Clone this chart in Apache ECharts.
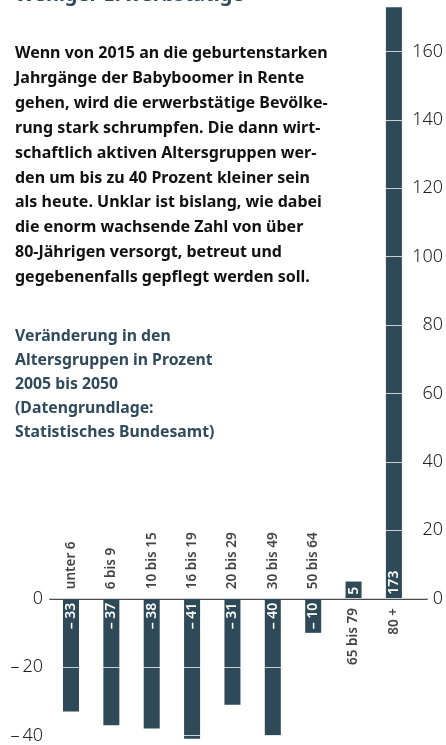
<!DOCTYPE html>
<html><head><meta charset="utf-8">
<script src="https://cdn.jsdelivr.net/npm/echarts@6/dist/echarts.min.js"></script>
<style>html,body{margin:0;padding:0;background:#fff}#c{width:446px;height:745px}</style>
</head><body><div id="c"></div>
<script>
const titleText = 'Weniger Erwerbstätige';
const introLines = [
  'Wenn von 2015 an die geburtenstarken',
  'Jahrgänge der Babyboomer in Rente',
  'gehen, wird die erwerbstätige Bevölke-',
  'rung stark schrumpfen. Die dann wirt-',
  'schaftlich aktiven Altersgruppen wer-',
  'den um bis zu 40 Prozent kleiner sein',
  'als heute. Unklar ist bislang, wie dabei',
  'die enorm wachsende Zahl von über',
  '80-Jährigen versorgt, betreut und',
  'gegebenenfalls gepflegt werden soll.'
];
const sourceLines = [
  'Veränderung in den',
  'Altersgruppen in Prozent',
  '2005 bis 2050',
  '(Datengrundlage:',
  'Statistisches Bundesamt)'
];
const categories = ['unter 6','6 bis 9','10 bis 15','16 bis 19','20 bis 29','30 bis 49','50 bis 64','65 bis 79','80 +'];
const values = [-33,-37,-38,-41,-31,-40,-10,5,173];
const valueLabels = ['– 33','– 37','– 38','– 41','– 31','– 40','– 10','5','173'];
const leftTickValues = [0,-20,-40];
const rightTickValues = [0,20,40,60,80,100,120,140,160];

const FONT = 'Noto Sans';
const BAR = '#2e4957';
const chart = echarts.init(document.getElementById('c'), null, {renderer:'canvas'});

const barData = values.map((v,i)=>({
  value:[i,v],
  label: v < 0
    ? {position:'insideTop', distance:4, align:'right'}
    : {position:'insideBottom', distance:4, align:'left'}
}));
const nameData = categories.map((c,i)=>({
  value:[i,0],
  label: values[i] < 0
    ? {position:'top', distance:9, align:'left'}
    : {position:'bottom', distance:9, align:'right'}
}));

chart.setOption({
  animation:false,
  textStyle:{fontFamily:FONT},
  title:[
    {text:titleText, left:10, top:-20, textStyle:{fontFamily:FONT, fontSize:20, fontWeight:'bold', color:'#2e4a5c', lineHeight:20}},
    {text:introLines.join('\n'), left:10, top:36, textStyle:{fontFamily:FONT, fontSize:16, fontWeight:'bold', color:'#111', lineHeight:24.9}},
    {text:sourceLines.join('\n'), left:10, top:319, textStyle:{fontFamily:FONT, fontSize:15.8, fontWeight:'bold', color:'#2e4a5c', lineHeight:24.2}}
  ],
  grid:{left:50, right:18, top:0.3, bottom:9.6, containLabel:false},
  xAxis:{type:'value', min:-0.52, max:8.82, axisLine:{onZero:true, lineStyle:{color:'#111', width:1.5}}, axisTick:{show:false}, axisLabel:{show:false}, splitLine:{show:false}},
  yAxis:[
    {type:'value', position:'left', min:-40, max:175, interval:20, z:5,
     axisLine:{show:false}, axisTick:{show:false},
     splitLine:{show:true, lineStyle:{color:'rgba(255,255,255,0.75)', width:1}},
     axisLabel:{margin:7, fontSize:18, fontWeight:300, color:'#222', fontFamily:FONT, showMaxLabel:false,
       formatter:v=> leftTickValues.indexOf(v) < 0 ? '' : (v < 0 ? '–\u2009' + Math.abs(v) : String(v))}},
    {type:'value', position:'right', min:-40, max:175, interval:20, z:5,
     axisLine:{show:false}, axisTick:{show:false}, splitLine:{show:false},
     axisLabel:{margin:16, align:'right', fontSize:18, fontWeight:300, color:'#222', fontFamily:FONT, showMaxLabel:false,
       formatter:v=> rightTickValues.indexOf(v) < 0 ? '' : String(v)}}
  ],
  series:[
    {type:'bar', data:barData, barWidth:16, clip:false, itemStyle:{color:BAR},
     label:{show:true, rotate:90, verticalAlign:'middle', color:'#fff', fontSize:14, fontWeight:600, fontFamily:FONT,
       formatter:p=>valueLabels[p.dataIndex]}},
    {type:'scatter', data:nameData, symbolSize:1, itemStyle:{color:'rgba(0,0,0,0)'}, z:6,
     label:{show:true, rotate:90, verticalAlign:'middle', color:'#111', fontSize:13.5, fontWeight:600, fontFamily:FONT,
       formatter:p=>categories[p.dataIndex]}}
  ]
});
</script></body></html>
